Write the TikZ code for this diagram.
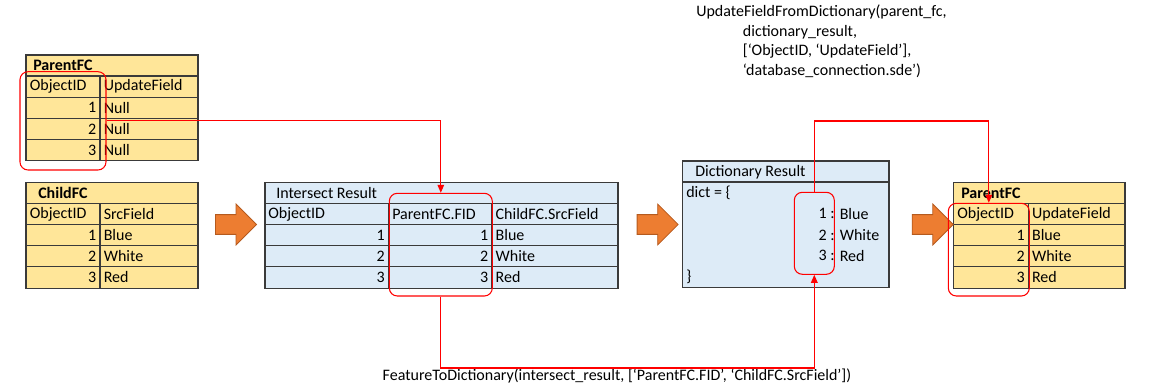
\documentclass[tikz,border=0pt]{standalone}
\usepackage{fontspec}
\setmainfont{Carlito}
\usetikzlibrary{arrows.meta,shapes.arrows,fit}

\definecolor{gold}{HTML}{FFE699}
\definecolor{paleblue}{HTML}{DDEBF7}
\definecolor{orng}{HTML}{ED7D31}
\definecolor{orngdark}{HTML}{B55A1E}
\definecolor{rule}{HTML}{3A3A3A}

\tikzset{
  txt/.style={inner sep=1.5pt,font=\fontsize{12}{14}\selectfont},
  title/.style={txt,font=\fontsize{12}{14}\selectfont\bfseries},
  grid/.style={draw=rule,line width=0.8pt},
  redbox/.style={draw=red,line width=0.8pt,rounded corners=6pt,inner sep=0pt},
  link/.style={red,line width=0.8pt,-{Triangle[length=6pt,width=5pt]}},
  blockarrow/.style={single arrow,fill=orng,draw=orngdark,line width=0.6pt,
    minimum height=30.75pt,inner xsep=0pt,inner ysep=7.1pt,
    single arrow head extend=7.9pt}
}

\begin{document}
\begin{tikzpicture}[x=0.75pt,y=-0.75pt]
\useasboundingbox (0,0) rectangle (1152,384);

% ParentFC (before)
\fill[gold] (26,55) rectangle (198,160.8);
\draw[grid] (26,55) rectangle (198,160.8);
\foreach \y in {76,97.2,118.4,139.6}
{
\draw[grid] (26,\y) -- (198,\y);
}
\draw[grid] (100,76) -- (100,160.8);
\node[title,anchor=west] (pfcA) at (31,65.5) {ParentFC};
\node[txt,anchor=west] (pfcAid) at (27.5,86.6) {ObjectID};
\node[txt,anchor=west] (pfcAfld) at (101.5,86.6) {UpdateField};
\foreach \n/\y in {1/107.8,2/129,3/150.2}
{
\node[txt,anchor=east] (pfcAn\n) at (98.5,\y) {\n};
\node[txt,anchor=west] (pfcAv\n) at (101.5,\y) {Null};
}

% ChildFC
\fill[gold] (26,182.3) rectangle (198,288.1);
\draw[grid] (26,182.3) rectangle (198,288.1);
\foreach \y in {203.3,224.5,245.7,266.9}
{
\draw[grid] (26,\y) -- (198,\y);
}
\draw[grid] (100,203.3) -- (100,288.1);
\node[title,anchor=west] (cfc) at (36,193) {ChildFC};
\node[txt,anchor=west] (cfcid) at (27.5,214) {ObjectID};
\node[txt,anchor=west] (cfcfld) at (101.5,214) {SrcField};
\foreach \n/\y/\v in {1/235.1/Blue,2/256.3/White,3/277.5/Red}
{
\node[txt,anchor=east] (cfcn\n) at (98.5,\y) {\n};
\node[txt,anchor=west] (cfcv\n) at (101.5,\y) {\v};
}

% Intersect Result
\fill[paleblue] (265,182.3) rectangle (618,288.1);
\draw[grid] (265,182.3) rectangle (618,288.1);
\foreach \y in {203.3,224.5,245.7,266.9}
{
\draw[grid] (265,\y) -- (618,\y);
}
\draw[grid] (388.3,203.3) -- (388.3,288.1);
\draw[grid] (491.7,203.3) -- (491.7,288.1);
\node[txt,anchor=west] (isr) at (274,193) {Intersect Result};
\node[txt,anchor=west] (isrid) at (266,214) {ObjectID};
\node[txt,anchor=west] (isrfid) at (390,214) {ParentFC.FID};
\node[txt,anchor=west] (isrsrc) at (493.4,214) {ChildFC.SrcField};
\foreach \n/\y/\v in {1/235.1/Blue,2/256.3/White,3/277.5/Red}
{
\node[txt,anchor=east] (isrn\n) at (387,\y) {\n};
\node[txt,anchor=east] (isrf\n) at (490.4,\y) {\n};
\node[txt,anchor=west] (isrv\n) at (493.4,\y) {\v};
}

% Dictionary Result
\fill[paleblue] (682.7,161) rectangle (889,287.5);
\draw[grid] (682.7,161) rectangle (889,287.5);
\draw[grid] (682.7,182) -- (889,182);
\node[txt,anchor=west] (dct) at (693,172) {Dictionary Result};
\node[txt,anchor=west] (dctopen) at (684,193) {dict = \{};
\foreach \n/\y/\v in {1/213.7/Blue,2/235/White,3/255.7/Red}
{
\node[txt,anchor=east] (dctk\n) at (837,\y) {\n\ :};
\node[txt,anchor=west] (dctv\n) at (837.5,\y) {\v};
}
\node[txt,anchor=west] (dctclose) at (684,276.5) {\}};

% ParentFC (after)
\fill[gold] (953.3,182.3) rectangle (1125,288.1);
\draw[grid] (953.3,182.3) rectangle (1125,288.1);
\foreach \y in {203.3,224.5,245.7,266.9}
{
\draw[grid] (953.3,\y) -- (1125,\y);
}
\draw[grid] (1028.3,203.3) -- (1028.3,288.1);
\node[title,anchor=west] (pfcB) at (959,193) {ParentFC};
\node[txt,anchor=west] (pfcBid) at (955,214) {ObjectID};
\node[txt,anchor=west] (pfcBfld) at (1029.8,214) {UpdateField};
\foreach \n/\y/\v in {1/235.1/Blue,2/256.3/White,3/277.5/Red}
{
\node[txt,anchor=east] (pfcBn\n) at (1027,\y) {\n};
\node[txt,anchor=west] (pfcBv\n) at (1029.8,\y) {\v};
}

% orange step arrows
\node[blockarrow] (stepA) at (231,224.5) {};
\node[blockarrow] (stepB) at (652.7,224.5) {};
\node[blockarrow] (stepC) at (927.8,224.5) {};

% selected columns
\node[redbox,fit={(20,71.7) (106,170)}] (selA) {};
\node[redbox,fit={(389.3,193.3) (492.3,296)}] (selB) {};
\node[redbox,fit={(794.3,192.3) (834.3,274.3)}] (selC) {};
\node[redbox,fit={(948.3,203.3) (1029.3,296)}] (selD) {};

% function calls
\node[txt,anchor=north west,align=left,font=\fontsize{12}{14.6}\selectfont] (upd) at (694,3)
{UpdateFieldFromDictionary(parent\_fc,\\
\hspace*{35pt}dictionary\_result,\\
\hspace*{35pt}[‘ObjectID, ‘UpdateField’],\\
\hspace*{35pt}‘database\_connection.sde’)};
\node[txt] (ftd) at (617,376) {FeatureToDictionary(intersect\_result, [‘ParentFC.FID’, ‘ChildFC.SrcField’])};

\coordinate (busTop) at (0,121);
\coordinate (busLow) at (0,368);
\draw[link] (selA.east) -| (selB.north);
\draw[link] (selB.south) -- (selB.south |- busLow) -| (selC.south);
\draw[link] (selC.north) -- (selC.north |- busTop) -| (selD.north);
\end{tikzpicture}
\end{document}
